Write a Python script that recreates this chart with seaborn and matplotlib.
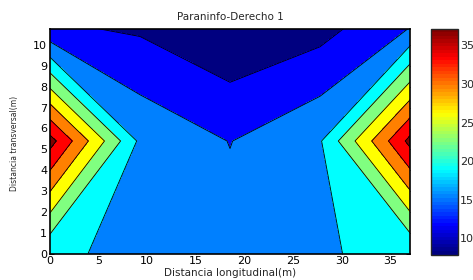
import matplotlib
matplotlib.use("Agg")
import matplotlib.pyplot as plt
import numpy as np
import seaborn as sns
from matplotlib.cm import ScalarMappable
from matplotlib.colors import LinearSegmentedColormap, Normalize

x_m = [0.0, 9.25, 18.5, 27.75, 37.0]
y_m = [0.0, 5.4, 10.8]
row_y0 = [19.08, 18.3, 16.5, 18.7, 18.9]
row_y54 = [38.4, 18.0, 15.0, 18.4, 38.06]
row_y108 = [12.0, 10.95, 8.2, 10.1, 15.2]

levels = [7.8, 11.45, 15.1, 18.75, 22.4, 26.05, 29.7, 33.35, 37.0, 40.0]
cbar_range = (7.9, 37.2)
cbar_ticks = [10, 15, 20, 25, 30, 35]
x_ticks = [0, 5, 10, 15, 20, 25, 30, 35]
y_ticks = list(range(0, 11))

# matlab jet anchor colours
jet_anchors = [
    (0.0, 0.0, 0.5), (0.0, 0.0, 1.0), (0.0, 0.5, 1.0), (0.0, 1.0, 1.0),
    (0.5, 1.0, 0.5), (1.0, 1.0, 0.0), (1.0, 0.5, 0.0), (1.0, 0.0, 0.0),
    (0.5, 0.0, 0.0),
]

sns.set_style("ticks")
plt.rcParams["font.family"] = ["DejaVu Sans"]

Z = np.array([row_y0, row_y54, row_y108])

fig = plt.figure(figsize=(4.73, 2.80), dpi=100)
ax = fig.add_axes([50 / 473, (280 - 253.5) / 280, 360 / 473, 225 / 280])
cax = fig.add_axes([431 / 473, (280 - 254.5) / 280, 26.5 / 473, 226 / 280])

ax.contourf(x_m, y_m, Z, levels=levels, colors=jet_anchors)
ax.contour(x_m, y_m, Z, levels=levels[1:-1], colors="k", linewidths=0.6)

ax.set_xlim(0, 37)
ax.set_ylim(0, 10.8)
ax.set_xticks(x_ticks)
ax.set_yticks(y_ticks)
ax.tick_params(direction="in", length=3, width=0.6, labelsize=8, pad=2,
               top=True, right=True, colors="k")
for s in ax.spines.values():
    s.set_linewidth(1.2)
    s.set_color("k")

ax.set_title("Paraninfo-Derecho 1", fontsize=7.5, pad=6)
ax.set_xlabel("Distancia longitudinal(m)", fontsize=7.5, labelpad=1)
ax.set_ylabel("Distancia transversal(m)", fontsize=5.5)
ax.yaxis.set_label_coords(-31 / 360, 0.49)

jet = LinearSegmentedColormap.from_list("matlab_jet", jet_anchors, N=64)
sm = ScalarMappable(norm=Normalize(*cbar_range), cmap=jet)
cb = fig.colorbar(sm, cax=cax, ticks=cbar_ticks)
cb.outline.set_linewidth(1.0)
cax.tick_params(direction="in", length=3, width=0.6, labelsize=8, pad=2,
                left=True, right=True, labelleft=False, labelright=True)

fig.savefig("out.png", dpi=100)
